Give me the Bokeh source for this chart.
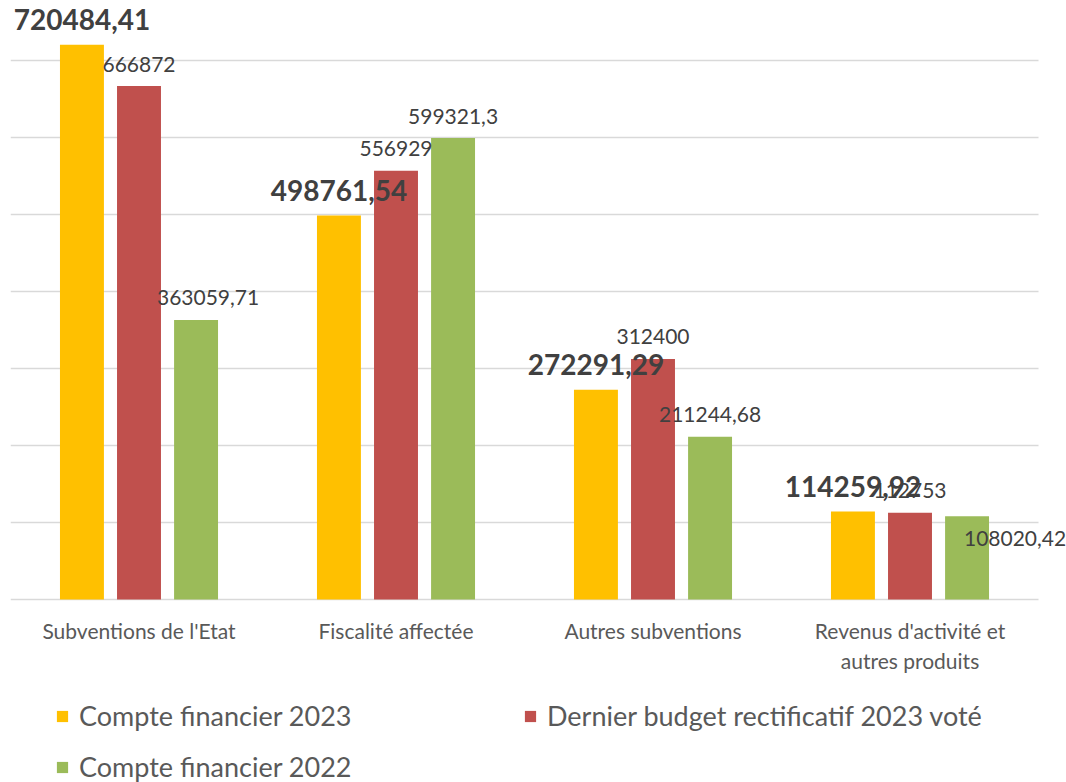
from bokeh.plotting import figure
from bokeh.models import ColumnDataSource, Range1d, Legend, LegendItem
from bokeh.core.properties import value
from bokeh.embed import file_html
from bokeh.resources import INLINE

# ---- data ----
categories = ["Subventions de l'Etat", "Fiscalité affectée", "Autres subventions",
              "Revenus d'activité et\nautres produits"]
series_names = ["Compte financier 2023", "Dernier budget rectificatif 2023 voté",
                "Compte financier 2022"]
compte_financier_2023 = [720484.41, 498761.54, 272291.29, 114259.92]
budget_rectificatif_2023 = [666872, 556929, 312400, 112753]
compte_financier_2022 = [363059.71, 599321.3, 211244.68, 108020.42]
gridline_values = [0, 100000, 200000, 300000, 400000, 500000, 600000, 700000]

# ---- style ----
colors = ["#FFC000", "#C0504D", "#9BBB59"]
offsets = [-0.222, 0.0, 0.222]
label_dx = [[0, 0, 0, 0], [0, 0, 0, 0], [12, 0, 0, 48]]
label_dy = [[-25, -25, -25, -25], [-22, -22, -22, -22], [-22, -22, -22, 22]]
FONT = "Lato"
PX_PER_UNIT_Y = 77.0 / 100000   # pixels per value unit
BASE_PX = 599                    # baseline row on the canvas
H = 782
CAT_PX = 257.0


def fmt(v):
    return str(v).replace(".", ",")


n = len(categories)
centers = [i + 0.5 for i in range(n)]

p = figure(x_range=Range1d(0, 1056 / CAT_PX),
           y_range=Range1d(-(H - BASE_PX) / PX_PER_UNIT_Y, BASE_PX / PX_PER_UNIT_Y),
           frame_width=1056, frame_height=H,
           min_border_left=10, min_border_right=0, min_border_top=0,
           min_border_bottom=0,
           output_backend="svg", toolbar_location=None)

p.outline_line_color = None
p.xaxis.visible = False
p.yaxis.visible = False
p.xgrid.grid_line_color = None
p.ygrid.grid_line_color = None

# horizontal gridlines (incl. baseline), restricted to the plot area
p.segment(x0=[0] * len(gridline_values), x1=[n] * len(gridline_values),
          y0=gridline_values, y1=gridline_values,
          line_color="#D9D9D9", line_width=1.5)

all_series = [compte_financier_2023, budget_rectificatif_2023, compte_financier_2022]
items = []
sources = []
for i, vals in enumerate(all_series):
    src = ColumnDataSource(dict(x=[c + offsets[i] for c in centers], top=vals,
                                txt=[fmt(v) for v in vals],
                                dx=label_dx[i], dy=label_dy[i]))
    sources.append(src)
    r = p.vbar(x="x", top="top", width=0.171, source=src,
               fill_color=colors[i], line_color=None)
    items.append(LegendItem(label=series_names[i], renderers=[r]))

# data labels drawn after all bars
for i, src in enumerate(sources):
    p.text(x="x", y="top", text="txt", source=src, x_offset="dx", y_offset="dy",
           text_align="center", text_baseline="middle",
           text_font=value(FONT), text_color="#404040",
           text_font_size="28px" if i == 0 else "21px",
           text_font_style="bold" if i == 0 else "normal")

# category labels below the baseline
p.text(x=centers, y=[0] * n, text=categories, y_offset=18,
       text_align="center", text_baseline="top", text_line_height=1.2,
       text_font=value(FONT), text_font_size="21px", text_color="#595959")

legend = Legend(items=items, location=(45, -1), orientation="horizontal", ncols=2,
                label_text_font=FONT, label_text_font_size="27px",
                label_text_color="#595959",
                glyph_width=14, glyph_height=14, label_standoff=10,
                label_height=28, label_width=426, spacing=18,
                padding=0, margin=0,
                border_line_color=None, background_fill_alpha=0)
p.add_layout(legend)

open("out.html", "w").write(file_html(p, INLINE))
